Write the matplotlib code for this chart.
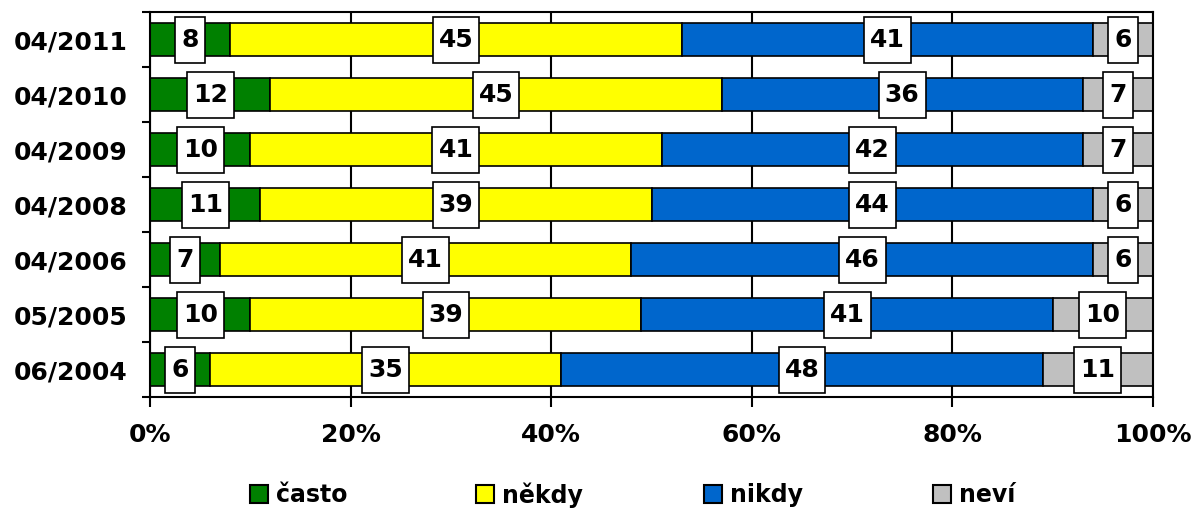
import matplotlib
matplotlib.use("Agg")
import matplotlib.pyplot as plt
from matplotlib.patches import Patch
from matplotlib.path import Path
import numpy as np

categories = ["04/2011", "04/2010", "04/2009", "04/2008", "04/2006", "05/2005", "06/2004"]
casto = [8, 12, 10, 11, 7, 10, 6]
nekdy = [45, 45, 41, 39, 41, 39, 35]
nikdy = [41, 36, 42, 44, 46, 41, 48]
nevi = [6, 7, 7, 6, 6, 10, 11]
series_names = ["často", "někdy", "nikdy", "neví"]
colors = ["#008000", "#FFFF00", "#0066CC", "#C0C0C0"]
xticks = [0, 20, 40, 60, 80, 100]
xticklabels = ["0%", "20%", "40%", "60%", "80%", "100%"]

plt.rcParams['font.family'] = ['DejaVu Sans']
plt.rcParams['font.weight'] = 'bold'


def label_box(x0, y0, width, height, mutation_size):
    px = 0.24 * mutation_size
    py = 0.44 * mutation_size
    x0 -= px
    y0 -= py
    x1 = x0 + width + 2 * px
    y1 = y0 + height + 2 * py
    return Path([(x0, y0), (x1, y0), (x1, y1), (x0, y1), (x0, y0)],
                [Path.MOVETO, Path.LINETO, Path.LINETO, Path.LINETO, Path.CLOSEPOLY])


fig = plt.figure(figsize=(12.02, 5.08), dpi=100)
ax = fig.add_axes([150/1202, 1 - 397/508, (1153-150)/1202, (397-12)/508])

y = np.arange(len(categories))
data = [casto, nekdy, nikdy, nevi]
left = np.zeros(len(categories))
for vals, name, col in zip(data, series_names, colors):
    vals = np.array(vals, dtype=float)
    ax.barh(y, vals, left=left, height=0.6, color=col, edgecolor='black',
            linewidth=1.2, label=name, zorder=2)
    for yi, l, v in zip(y, left, vals):
        ax.text(l + v / 2, yi, f"{int(v)}", ha='center', va='center',
                fontsize=18, fontweight='bold', zorder=4,
                bbox=dict(boxstyle=label_box, facecolor='white',
                          edgecolor='black', linewidth=1.2))
    left += vals

ax.set_xlim(0, 100)
ax.set_ylim(len(categories) - 0.5, -0.5)
ax.set_xticks(xticks)
ax.set_xticklabels(xticklabels, fontsize=18, fontweight='bold')
ax.set_yticks(y)
ax.set_yticklabels(categories, fontsize=18, fontweight='bold')
ax.set_yticks(np.arange(-0.5, len(categories), 1), minor=True)
ax.tick_params(axis='y', which='major', length=0, pad=16)
ax.tick_params(axis='y', which='minor', length=6, width=1.5, direction='out')
ax.tick_params(axis='x', which='major', length=7, width=1.5, direction='out', pad=12)
ax.xaxis.grid(True, color='black', linewidth=1.5, zorder=0)
ax.set_axisbelow(True)
for s in ax.spines.values():
    s.set_linewidth(1.5)

legend_x = [250/1202, 476/1202, 704/1202, 933/1202]
for name, col, lx in zip(series_names, colors, legend_x):
    h = Patch(facecolor=col, edgecolor='black', linewidth=1.5)
    leg = fig.legend([h], [name], loc='center left', bbox_to_anchor=(lx, 0.026),
                     frameon=False, prop={'weight': 'bold', 'size': 17},
                     handlelength=0.75, handleheight=0.8, handletextpad=0.35,
                     borderpad=0, borderaxespad=0)

fig.savefig("out.png", dpi=100)
